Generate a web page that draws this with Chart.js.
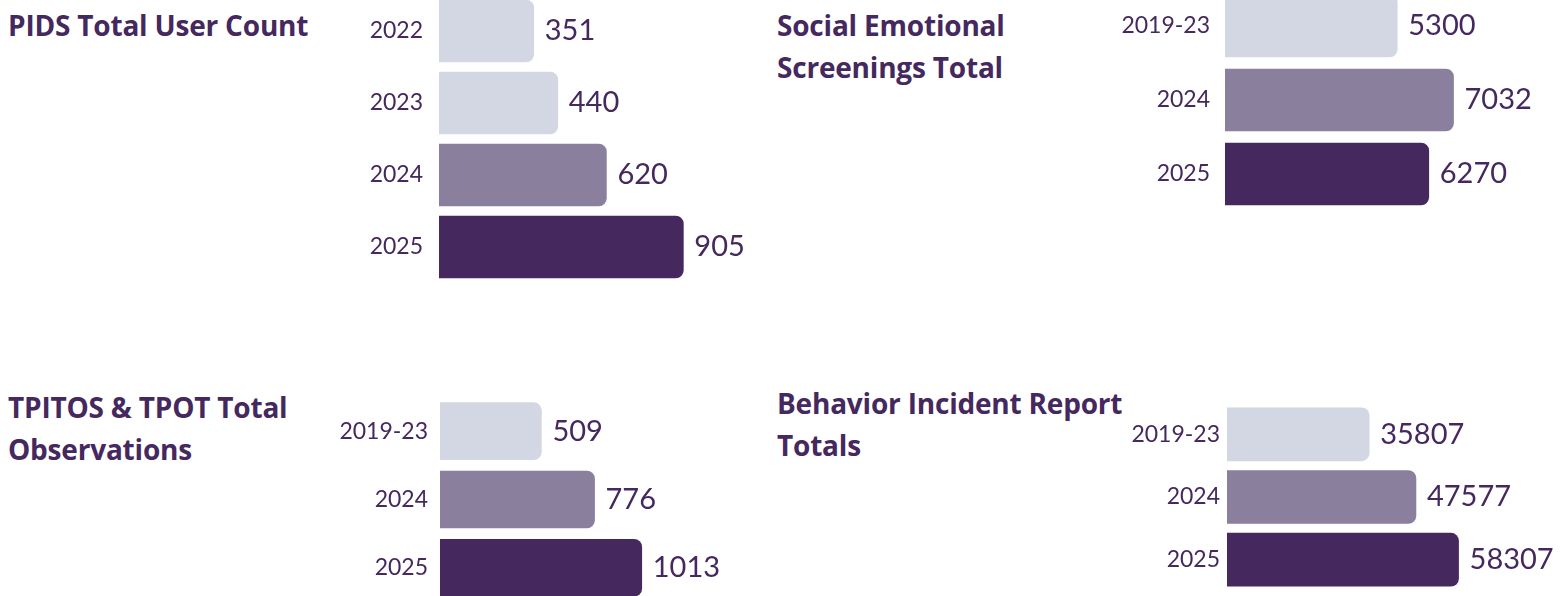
<!DOCTYPE html>
<html lang="en">
<head>
    <meta charset="UTF-8">
    <title>Program Totals</title>
    <script src="https://cdn.jsdelivr.net/npm/chart.js"></script>
    <style>
        body {
            margin: 0;
            width: 1560px;
            height: 596px;
            overflow: hidden;
            background: #fff;
            font-family: Lato, Arial, sans-serif;
            position: relative;
        }
        .title {
            position: absolute;
            color: #44285e;
            font-family: "Open Sans", Lato, Arial, sans-serif;
            font-weight: 700;
            font-size: 28px;
            line-height: 42px;
            letter-spacing: -0.2px;
        }
        .box {
            position: absolute;
        }
    </style>
</head>
<body>

<div class="title" style="left:8px; top:4px;">PIDS Total User Count</div>
<div class="title" style="left:777px; top:4px;">Social Emotional<br>Screenings Total</div>
<div class="title" style="left:8px; top:386px;">TPITOS &amp; TPOT Total<br>Observations</div>
<div class="title" style="left:777px; top:382px;">Behavior Incident Report<br>Totals</div>

<div class="box" style="left:330px; top:-5px; width:480px; height:288px;"><canvas id="pidsChart"></canvas></div>
<div class="box" style="left:1110px; top:-11px; width:460px; height:222px;"><canvas id="screeningChart"></canvas></div>
<div class="box" style="left:330px; top:397px; width:440px; height:205px;"><canvas id="observationChart"></canvas></div>
<div class="box" style="left:1110px; top:403px; width:460px; height:188px;"><canvas id="incidentChart"></canvas></div>

<script>
    const pidsYears = ['2022', '2023', '2024', '2025'];
    const pidsUsers = [351, 440, 620, 905];

    const screeningYears = ['2019-23', '2024', '2025'];
    const screeningTotals = [5300, 7032, 6270];

    const observationYears = ['2019-23', '2024', '2025'];
    const observationTotals = [509, 776, 1013];

    const incidentYears = ['2019-23', '2024', '2025'];
    const incidentTotals = [35807, 47577, 58307];

    const light = '#d3d6e3';
    const mid = '#8a7f9d';
    const dark = '#44285e';

    // draws the number just past the end of each bar
    const valueLabels = {
        id: 'valueLabels',
        afterDatasetsDraw(chart) {
            const ctx = chart.ctx;
            const meta = chart.getDatasetMeta(0);
            const values = chart.data.datasets[0].data;
            ctx.save();
            ctx.font = '400 29px Lato, Arial, sans-serif';
            ctx.fillStyle = dark;
            ctx.textAlign = 'left';
            ctx.textBaseline = 'middle';
            meta.data.forEach((bar, i) => {
                ctx.fillText(values[i], bar.x + 11, bar.y);
            });
            ctx.restore();
        }
    };

    function makeBarChart(id, labels, values, colors, opts) {
        const ctx = document.getElementById(id).getContext('2d');
        return new Chart(ctx, {
            type: 'bar',
            data: {
                labels: labels,
                datasets: [{
                    data: values,
                    backgroundColor: colors,
                    borderRadius: 8,
                    borderSkipped: 'start',
                    barThickness: opts.thickness
                }]
            },
            options: {
                indexAxis: 'y',
                responsive: true,
                maintainAspectRatio: false,
                animation: false,
                layout: { padding: { left: 0, right: opts.rightPad, top: 0, bottom: 0 } },
                plugins: {
                    legend: { display: false },
                    tooltip: { enabled: false }
                },
                scales: {
                    x: {
                        display: false,
                        min: 0,
                        max: opts.max
                    },
                    y: {
                        grid: { display: false, drawTicks: false },
                        border: { display: false },
                        ticks: {
                            color: dark,
                            padding: opts.tickPad,
                            font: { family: 'Lato, Arial, sans-serif', size: 23 }
                        },
                        afterFit(scale) {
                            // fixed axis width, and no extra room above/below the bars
                            scale.width = opts.axisWidth;
                            scale.paddingTop = 0;
                            scale.paddingBottom = 0;
                        }
                    }
                }
            },
            plugins: [valueLabels]
        });
    }

    makeBarChart('pidsChart', pidsYears, pidsUsers, [light, light, mid, dark],
        { thickness: 62, max: 1000, axisWidth: 109, tickPad: 16, rightPad: 101 });
    makeBarChart('screeningChart', screeningYears, screeningTotals, [light, mid, dark],
        { thickness: 62, max: 8000, axisWidth: 115, tickPad: 15, rightPad: 85 });
    makeBarChart('observationChart', observationYears, observationTotals, [light, mid, dark],
        { thickness: 57, max: 1200, axisWidth: 110, tickPad: 12, rightPad: 91 });
    makeBarChart('incidentChart', incidentYears, incidentTotals, [light, mid, dark],
        { thickness: 53, max: 70000, axisWidth: 117, tickPad: 7, rightPad: 65 });
</script>

</body>
</html>
